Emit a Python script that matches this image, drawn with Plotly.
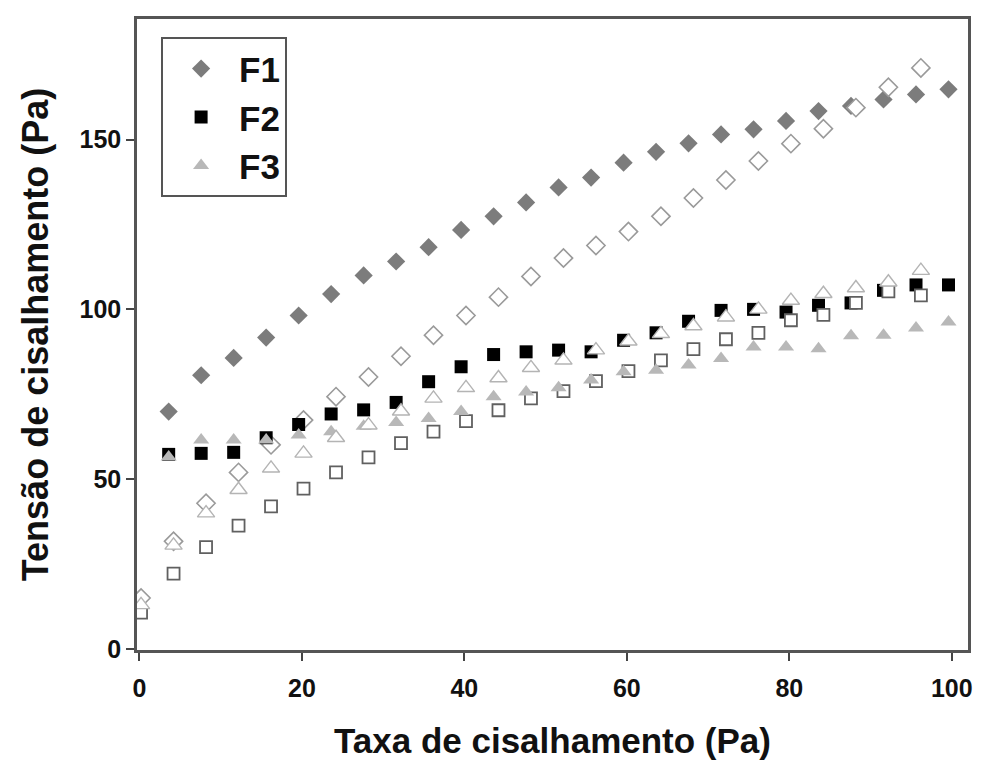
import plotly.graph_objects as go

# Shear rate positions (up curve = open markers, down curve = filled markers)
x_down = [3.6, 7.6, 11.6, 15.6, 19.6, 23.6, 27.6, 31.6, 35.6, 39.6, 43.6, 47.6, 51.6,
          55.6, 59.6, 63.6, 67.6, 71.6, 75.6, 79.6, 83.6, 87.6, 91.6, 95.6, 99.6]
x_up = [0.2, 4.2, 8.2, 12.2, 16.2, 20.2, 24.2, 28.2, 32.2, 36.2, 40.2, 44.2, 48.2,
        52.2, 56.2, 60.2, 64.2, 68.2, 72.2, 76.2, 80.2, 84.2, 88.2, 92.2, 96.2]

f1_down = [69.9, 80.6, 85.7, 91.7, 98.2, 104.5, 110.0, 114.1, 118.3, 123.4, 127.4, 131.5, 135.9,
           138.8, 143.2, 146.4, 148.9, 151.5, 153.0, 155.5, 158.4, 159.9, 161.8, 163.3, 164.8]
f1_up = [15.0, 31.7, 42.9, 52.0, 60.1, 67.4, 74.3, 80.1, 86.2, 92.4, 98.2, 103.6, 109.7,
         115.1, 118.8, 122.9, 127.4, 132.8, 138.1, 143.7, 148.8, 153.2, 159.4, 165.4, 171.1]

f2_down = [57.3, 57.6, 57.9, 62.2, 66.1, 69.2, 70.4, 72.6, 78.7, 83.1, 86.7, 87.5, 88.0,
           87.5, 90.9, 93.1, 96.5, 99.7, 100.0, 99.2, 101.2, 101.9, 105.6, 107.2, 107.2]
f2_up = [10.7, 22.2, 30.0, 36.3, 42.0, 47.2, 52.0, 56.4, 60.6, 64.0, 67.1, 70.3, 73.8,
         75.9, 78.9, 81.8, 85.0, 88.3, 91.2, 93.1, 96.8, 98.4, 101.9, 105.3, 104.1]

f3_down = [56.5, 61.5, 61.5, 61.5, 63.0, 64.0, 65.6, 66.7, 67.9, 69.9, 74.3, 75.7, 76.9,
           79.2, 81.6, 82.1, 83.6, 85.5, 88.9, 88.9, 88.4, 92.2, 92.4, 94.5, 96.3]
f3_up = [13.0, 30.5, 40.0, 46.9, 53.2, 57.6, 62.2, 65.9, 70.0, 73.8, 76.9, 79.8, 82.8,
         85.0, 88.0, 90.6, 92.8, 95.1, 97.7, 100.0, 102.6, 104.6, 106.3, 108.0, 111.4]

names = ["F1", "F2", "F3"]
x_ticks = [0, 20, 40, 60, 80, 100]
y_ticks = [0, 50, 100, 150]

FONT = "Liberation Sans, Arial, sans-serif"

fig = go.Figure()

# F1
fig.add_trace(go.Scatter(x=x_down, y=f1_down, mode="markers", name=names[0],
                         marker=dict(symbol="diamond", size=14, color="#7c7c7c",
                                     line=dict(width=0))))
fig.add_trace(go.Scatter(x=x_up, y=f1_up, mode="markers", showlegend=False,
                         marker=dict(symbol="diamond", size=14, color="rgba(255,255,255,1)",
                                     line=dict(width=1.6, color="#9a9a9a"))))
# F2
fig.add_trace(go.Scatter(x=x_down, y=f2_down, mode="markers", name=names[1],
                         marker=dict(symbol="square", size=13, color="#000000",
                                     line=dict(width=0))))
fig.add_trace(go.Scatter(x=x_up, y=f2_up, mode="markers", showlegend=False,
                         marker=dict(symbol="square", size=12, color="rgba(255,255,255,1)",
                                     line=dict(width=1.8, color="#606060"))))
# F3
fig.add_trace(go.Scatter(x=x_down, y=f3_down, mode="markers", name=names[2],
                         marker=dict(symbol="triangle-up", size=14, color="#b8b8b8",
                                     line=dict(width=0))))
fig.add_trace(go.Scatter(x=x_up, y=f3_up, mode="markers", showlegend=False,
                         marker=dict(symbol="triangle-up", size=15, color="rgba(255,255,255,1)",
                                     line=dict(width=1.4, color="#b4b4b4"))))

axis_common = dict(
    showline=True, linecolor="#555555", linewidth=2.5, mirror=True,
    ticks="outside", ticklen=8, tickwidth=2, tickcolor="#444444",
    showgrid=False, zeroline=False,
    tickfont=dict(family=FONT, size=25, color="#111111", weight="bold"),
)

fig.update_xaxes(range=[-0.3, 102], tickvals=x_ticks, ticklabelstandoff=6,
                 title=dict(text="Taxa de cisalhamento (Pa)", standoff=28,
                            font=dict(family=FONT, size=35, color="#111111", weight="bold")),
                 **axis_common)
fig.update_yaxes(range=[-0.3, 185.5], tickvals=y_ticks,
                 title=dict(text="Tensão de cisalhamento (Pa)", standoff=20,
                            font=dict(family=FONT, size=36, color="#111111", weight="bold")),
                 **axis_common)

# The page body adds an 8px offset, so the figure is sized to fill the rest of the window.
fig.update_layout(
    width=975, height=754,
    margin=dict(l=129, r=15, t=8, b=110),
    paper_bgcolor="white", plot_bgcolor="white",
    legend=dict(x=0.029, y=0.971, xanchor="left", yanchor="top",
                bgcolor="white", bordercolor="#555555", borderwidth=2,
                font=dict(family=FONT, size=35, color="#111111", weight="bold"),
                itemwidth=66, tracegroupgap=0),
)

fig.write_html("out.html")
